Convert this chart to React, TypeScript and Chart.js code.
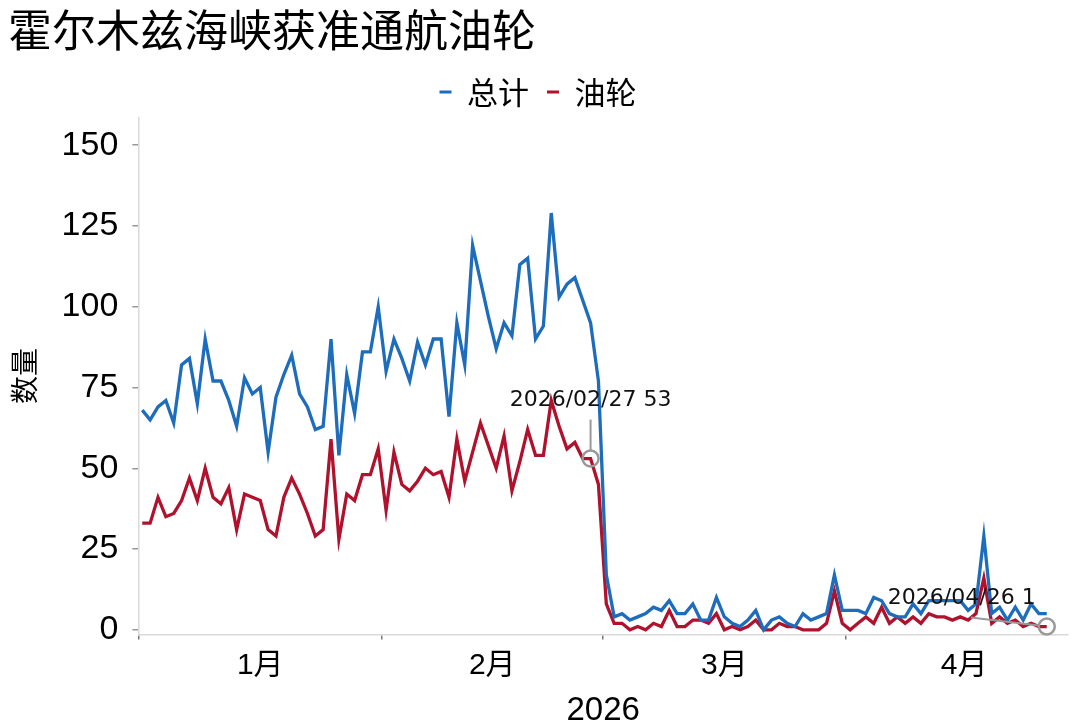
import React, { useEffect, useRef } from 'react';
import { Chart, registerables } from 'chart.js';
import type { Plugin } from 'chart.js';

Chart.register(...registerables);

const TITLE = '霍尔木兹海峡获准通航油轮';
const YEAR = 2026;
const months = ['1月', '2月', '3月', '4月'];
const monthLengths = [31, 28, 31, 30];
const seriesNames = ['总计', '油轮'];
const yTicks = [0, 25, 50, 75, 100, 125, 150];

// daily counts, 2026-01-01 .. 2026-04-26
const total = [
  68, 65, 69, 71, 64, 82, 84, 70, 90, 77,
  77, 71, 63, 78, 73, 75, 55, 72, 79, 85,
  73, 69, 62, 63, 90, 54, 79, 67, 86, 86,
  100, 80, 90, 84, 77, 89, 82, 90, 90, 66,
  95, 82, 119, 108, 97, 87, 95, 91, 113, 115,
  90, 94, 129, 103, 107, 109, 102, 95, 77, 17,
  4, 5, 3, 4, 5, 7, 6, 9, 5, 5,
  8, 3, 3, 10, 4, 2, 1, 3, 6, 0,
  3, 4, 2, 1, 5, 3, 4, 5, 17, 6,
  6, 6, 5, 10, 9, 5, 4, 4, 8, 5,
  9, 9, 9, 9, 9, 6, 8, 29, 5, 7,
  3, 7, 3, 8, 5, 5,
];
const tanker = [
  33, 33, 41, 35, 36, 40, 47, 40, 50, 41,
  39, 44, 31, 42, 41, 40, 31, 29, 41, 47,
  42, 36, 29, 31, 59, 28, 42, 40, 48, 48,
  56, 37, 55, 45, 43, 46, 50, 48, 49, 41,
  59, 46, 55, 64, 57, 50, 60, 43, 52, 62,
  54, 54, 71, 63, 56, 58, 53, 53, 45, 8,
  2, 2, 0, 1, 0, 2, 1, 6, 1, 1,
  3, 3, 2, 5, 0, 1, 0, 1, 3, 0,
  0, 2, 1, 1, 0, 0, 0, 2, 12, 2,
  0, 2, 4, 2, 7, 2, 4, 2, 4, 2,
  5, 4, 4, 3, 4, 3, 5, 16, 2, 4,
  2, 3, 1, 2, 1, 1,
];

// annotated points on the 油轮 series: [month, day]
const callouts: [number, number][] = [
  [2, 27],
  [4, 26],
];

const BLUE = '#1e6cbc';
const RED = '#b0122e';
const CJK = '"Noto Sans CJK SC"';

const monthStart = monthLengths.map((_, i) => monthLengths.slice(0, i).reduce((a, b) => a + b, 0));
const boundaries = monthStart.map(s => s - 0.5);
const mids = monthStart.map((s, i) => s - 0.5 + monthLengths[i] / 2);
const xTickValues = [...boundaries, ...mids].sort((a, b) => a - b);

const dayIndex = (m: number, d: number) => monthStart[m - 1] + d - 1;
const pad2 = (n: number) => String(n).padStart(2, '0');

// label offsets relative to the marked point, and where the leader starts relative to the label
const calloutStyle = [
  { dx: 0, dy: -58, lx: 0, ly: 19 },
  { dx: -85, dy: -28, lx: 9, ly: 19 },
];

const calloutPlugin: Plugin<'line'> = {
  id: 'calloutPlugin',
  afterDatasetsDraw: (chart) => {
    const { ctx } = chart;
    const meta = chart.getDatasetMeta(1);
    const r = 8;
    ctx.save();
    callouts.forEach(([m, d], k) => {
      const idx = dayIndex(m, d);
      const pt = meta.data[idx];
      if (!pt) return;
      const { x, y } = pt.getProps(['x', 'y'], true) as any;
      const st = calloutStyle[k];
      const tx = x + st.dx;
      const ty = y + st.dy;
      const sx = tx + st.lx;
      const sy = ty + st.ly;
      const ang = Math.atan2(y - sy, x - sx);
      ctx.strokeStyle = '#999999';
      ctx.lineWidth = 2;
      ctx.beginPath();
      ctx.moveTo(sx, sy);
      ctx.lineTo(x - r * Math.cos(ang), y - r * Math.sin(ang));
      ctx.stroke();
      ctx.lineWidth = 2.5;
      ctx.beginPath();
      ctx.arc(x, y, r, 0, Math.PI * 2);
      ctx.stroke();
      ctx.fillStyle = '#111';
      ctx.font = '22px "DejaVu Sans"';
      ctx.textAlign = 'center';
      ctx.textBaseline = 'middle';
      ctx.fillText(`${YEAR}/${pad2(m)}/${pad2(d)} ${tanker[idx]}`, tx, ty);
    });
    ctx.restore();
  },
};

const App: React.FC = () => {
  const chartRef = useRef<HTMLCanvasElement>(null);
  const chartInstance = useRef<Chart | null>(null);

  useEffect(() => {
    if (!chartRef.current) return;
    const ctx = chartRef.current.getContext('2d');
    if (!ctx) return;
    if (chartInstance.current) chartInstance.current.destroy();

    chartInstance.current = new Chart(ctx, {
      type: 'line',
      data: {
        datasets: [
          {
            label: seriesNames[0],
            data: total.map((v, i) => ({ x: i, y: v })),
            borderColor: BLUE,
            backgroundColor: BLUE,
            borderWidth: 3.3,
            pointRadius: 0,
            tension: 0,
          },
          {
            label: seriesNames[1],
            data: tanker.map((v, i) => ({ x: i, y: v })),
            borderColor: RED,
            backgroundColor: RED,
            borderWidth: 3.3,
            pointRadius: 0,
            tension: 0,
          },
        ],
      },
      options: {
        animation: false,
        responsive: true,
        maintainAspectRatio: false,
        layout: { padding: { left: 8, right: 12, top: 4, bottom: 0 } },
        plugins: {
          title: {
            display: true,
            text: TITLE,
            align: 'start',
            color: '#000',
            font: { size: 44, family: CJK, weight: 'normal', lineHeight: 1.1 },
            padding: { top: 2, bottom: 4 },
          },
          legend: {
            display: true,
            position: 'top',
            align: 'center',
            labels: {
              boxWidth: 12,
              boxHeight: 3,
              padding: 18,
              color: '#000',
              font: { size: 31, family: CJK },
              generateLabels: (chart) =>
                Chart.defaults.plugins.legend.labels.generateLabels(chart).map(l => ({ ...l, lineWidth: 0 })),
            },
          },
          tooltip: { enabled: false },
        },
        scales: {
          x: {
            type: 'linear',
            min: -0.5,
            max: 117.7,
            afterBuildTicks: (scale) => {
              scale.ticks = xTickValues.map(v => ({ value: v }));
            },
            ticks: {
              autoSkip: false,
              maxRotation: 0,
              padding: 9,
              color: '#000',
              font: { size: 30, family: `"Liberation Sans", ${CJK}`, lineHeight: 1.15 },
              callback: (v) => {
                const k = mids.indexOf(Number(v));
                return k >= 0 ? months[k] : '';
              },
            },
            grid: {
              drawOnChartArea: false,
              drawTicks: true,
              tickLength: 5,
              lineWidth: 1.5,
              color: (c: any) => (c.tick && boundaries.includes(c.tick.value) ? '#777' : 'rgba(0,0,0,0)'),
            },
            border: { color: '#d9d9d9', width: 1.5 },
            title: {
              display: true,
              text: String(YEAR),
              color: '#000',
              font: { size: 33, family: '"Liberation Sans"', lineHeight: 1.0 },
              padding: { top: 2, bottom: 0 },
            },
          },
          y: {
            min: -1.46,
            max: 158.6,
            afterBuildTicks: (scale) => {
              scale.ticks = yTicks.map(v => ({ value: v }));
            },
            ticks: {
              padding: 14,
              color: '#000',
              font: { size: 34, family: '"Liberation Sans"' },
            },
            grid: { drawOnChartArea: false, tickLength: 6, color: '#999', lineWidth: 1.5 },
            border: { color: '#d9d9d9', width: 1.5 },
            title: {
              display: true,
              text: '数量',
              color: '#000',
              font: { size: 28, family: CJK },
              padding: { top: 0, bottom: 6 },
            },
          },
        },
      },
      plugins: [calloutPlugin],
    });

    return () => {
      if (chartInstance.current) {
        chartInstance.current.destroy();
        chartInstance.current = null;
      }
    };
  }, []);

  return (
    <div style={{ position: 'fixed', left: 0, top: 0, width: 1080, height: 727, background: '#fff' }}>
      <canvas ref={chartRef} />
    </div>
  );
};

export default App;
